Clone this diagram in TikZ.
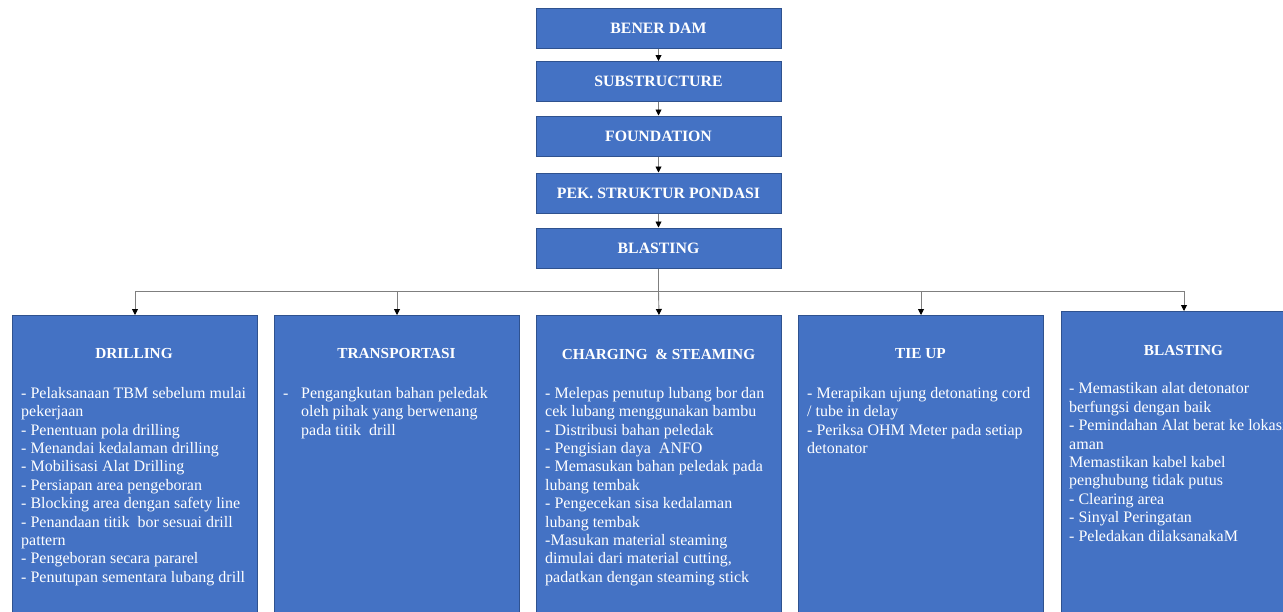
\documentclass[tikz,border=0pt]{standalone}
\usepackage{fontspec}
\setmainfont{Liberation Serif}
\usetikzlibrary{arrows.meta}
\definecolor{boxfill}{HTML}{4472C4}
\definecolor{boxedge}{HTML}{2F528F}
\definecolor{wire}{HTML}{7F7F7F}

\begin{document}
\begin{tikzpicture}[x=1pt,y=-1pt,
  topbox/.style={draw=boxedge, fill=boxfill, line width=1pt, minimum width=245pt,
    minimum height=40pt, inner sep=0pt, text=white,
    font=\fontsize{15.8}{18}\selectfont\bfseries},
  taskbox/.style={draw=boxedge, fill=boxfill, line width=1pt, minimum width=245pt,
    minimum height=320pt, anchor=north west, inner sep=0pt},
  head/.style={text=white, font=\fontsize{15.3}{18}\selectfont\bfseries, inner sep=0pt},
  body/.style={text=white, font=\fontsize{16}{18.4}\selectfont, align=left,
    anchor=north west, inner sep=0pt},
  wireline/.style={draw=wire, line width=0.9pt},
  link/.style={draw=wire, line width=0.9pt, -{Triangle[length=6pt,width=6pt,black]}}
]
\useasboundingbox (0,0) rectangle (1283,611);

% main chain
\node[topbox] (dam)   at (658.5,28)  {BENER DAM};
\node[topbox] (sub)   at (658.5,81.5) {SUBSTRUCTURE};
\node[topbox] (fdn)   at (658.5,136) {FOUNDATION};
\node[topbox] (pek)   at (658.5,193) {PEK. STRUKTUR PONDASI};
\node[topbox] (blast) at (658.5,248) {BLASTING};

\draw[link] (dam) -- (sub);
\draw[link] (sub) -- (fdn);
\draw[link] (fdn) -- (pek);
\draw[link] (pek) -- (blast);

% task boxes
\node[taskbox] (drill) at (12,315)   {};
\node[taskbox] (trans) at (274,315)  {};
\node[taskbox] (charge) at (536,315) {};
\node[taskbox] (tie)   at (798,315)  {};
\node[taskbox] (fire)  at (1061,311) {};

% distribution bus
\coordinate (split) at (658.5,291);
\draw[wireline] (blast.south) -- (split);
\draw[link] (split) -| (drill.north);
\draw[link] (split) -| (trans.north);
\draw[link] (split) -- (charge.north);
\draw[link] (split) -| (tie.north);
\draw[link] (split) -| (fire.north);

% headings
\node[head] (hdrill)  at (134,354)    {DRILLING};
\node[head] (htrans)  at (396.5,354)  {TRANSPORTASI};
\node[head] (hcharge) at (658.5,354)  {CHARGING \ \& STEAMING};
\node[head] (htie)    at (920.5,354)  {TIE UP};
\node[head] (hfire)   at (1183.5,351) {BLASTING};

% step lists
\node[body] (tdrill) at (21,387) {%
- Pelaksanaan TBM sebelum mulai\\
pekerjaan\\
- Penentuan pola drilling\\
- Menandai kedalaman drilling\\
- Mobilisasi Alat Drilling\\
- Persiapan area pengeboran\\
- Blocking area dengan safety line\\
- Penandaan titik \ bor sesuai drill\\
pattern\\
- Pengeboran secara pararel\\
- Penutupan sementara lubang drill};

\node[body] (ttrans) at (283,387) {%
\makebox[18pt][l]{-}Pengangkutan bahan peledak\\
\hspace*{18pt}oleh pihak yang berwenang\\
\hspace*{18pt}pada titik \ drill};

\node[body] (tcharge) at (545,387) {%
- Melepas penutup lubang bor dan\\
cek lubang menggunakan bambu\\
- Distribusi bahan peledak\\
- Pengisian daya \ ANFO\\
- Memasukan bahan peledak pada\\
lubang tembak\\
- Pengecekan sisa kedalaman\\
lubang tembak\\
-Masukan material steaming\\
dimulai dari material cutting,\\
padatkan dengan steaming stick};

\node[body] (ttie) at (807,387) {%
- Merapikan ujung detonating cord\\
/ tube in delay\\
- Periksa OHM Meter pada setiap\\
detonator};

\node[body] (tfire) at (1069,382.5) {%
- Memastikan alat detonator\\
berfungsi dengan baik\\
- Pemindahan Alat berat ke lokasi\\
aman\\
Memastikan kabel kabel\\
penghubung tidak putus\\
- Clearing area\\
- Sinyal Peringatan\\
- Peledakan dilaksanakaM};
\end{tikzpicture}
\end{document}
